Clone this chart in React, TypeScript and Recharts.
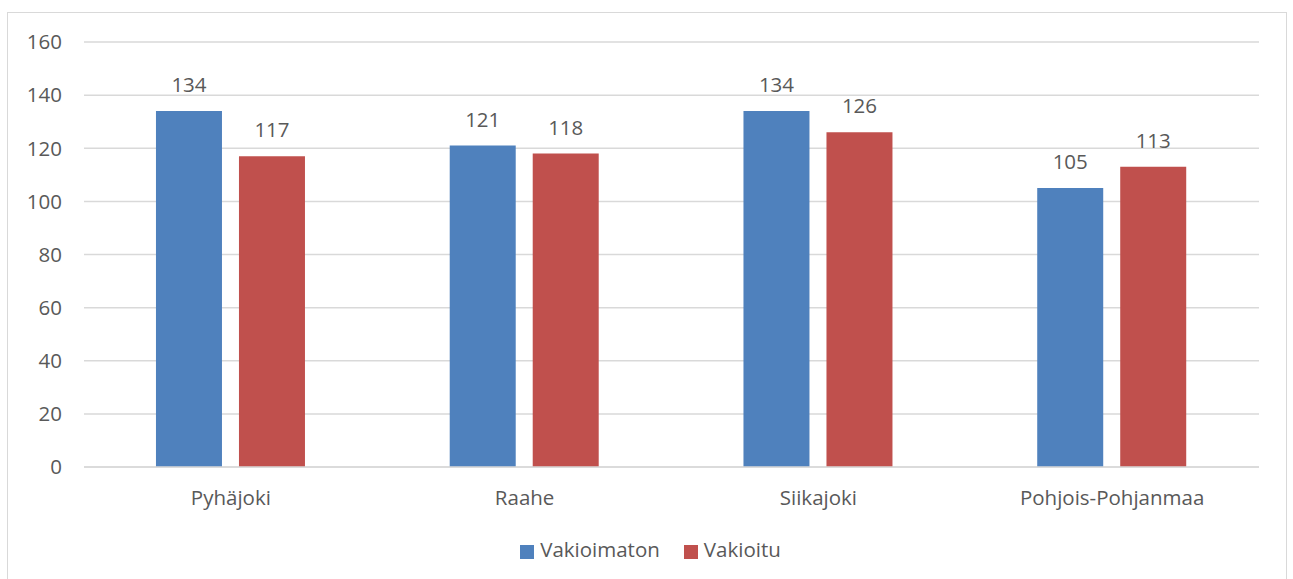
import { BarChart, Bar, XAxis, YAxis, CartesianGrid, Legend, LabelList } from "recharts";

const regions = ["Pyhäjoki", "Raahe", "Siikajoki", "Pohjois-Pohjanmaa"];
const vakioimaton = [134, 121, 134, 105];
const vakioitu = [117, 118, 126, 113];
const yTicks = [0, 20, 40, 60, 80, 100, 120, 140, 160];

const data = regions.map((region, i) => ({
  region,
  Vakioimaton: vakioimaton[i],
  Vakioitu: vakioitu[i],
}));

const font = "'Open Sans', sans-serif";
const textColor = "#595959";
const fs = 20.5;

export default function App() {
  return (
    <div style={{ position: "absolute", left: 0, top: 0, width: 1293, height: 579, overflow: "hidden", background: "#fff", fontFamily: font }}>
      <div
        style={{
          position: "absolute",
          left: 7,
          top: 12,
          width: 1280,
          height: 600,
          border: "1px solid #d9d9d9",
          boxSizing: "border-box",
        }}
      />
      <div style={{ position: "absolute", left: 0, top: 0 }}>
        <BarChart
          width={1293}
          height={579}
          data={data}
          margin={{ top: 42, right: 34, left: 0, bottom: 51 }}
          barCategoryGap="24.5%"
          barGap={17}
        >
          <CartesianGrid vertical={false} stroke="#d9d9d9" strokeWidth={1.5} />
          <XAxis
            dataKey="region"
            axisLine={{ stroke: "#d9d9d9", strokeWidth: 1.5 }}
            tickLine={false}
            tickSize={0}
            tickMargin={23}
            height={33}
            tick={{ fill: textColor, fontSize: fs, fontFamily: font }}
          />
          <YAxis
            domain={[0, 160]}
            ticks={yTicks}
            axisLine={false}
            tickLine={false}
            tickSize={0}
            tickMargin={22}
            width={84}
            tick={{ fill: textColor, fontSize: fs, fontFamily: font }}
          />
          <Legend
            verticalAlign="bottom"
            iconType="square"
            iconSize={14}
            wrapperStyle={{ fontSize: fs, fontFamily: font, position: "absolute", top: 535, bottom: "auto", left: 16, width: 1293 }}
            formatter={(value) => <span style={{ color: textColor, marginLeft: 2, marginRight: 14 }}>{value}</span>}
          />
          <Bar dataKey="Vakioimaton" fill="#4f81bd" isAnimationActive={false}>
            <LabelList dataKey="Vakioimaton" position="top" offset={19} fill={textColor} fontSize={fs} fontFamily={font} />
          </Bar>
          <Bar dataKey="Vakioitu" fill="#c0504d" isAnimationActive={false}>
            <LabelList dataKey="Vakioitu" position="top" offset={19} fill={textColor} fontSize={fs} fontFamily={font} />
          </Bar>
        </BarChart>
      </div>
    </div>
  );
}
